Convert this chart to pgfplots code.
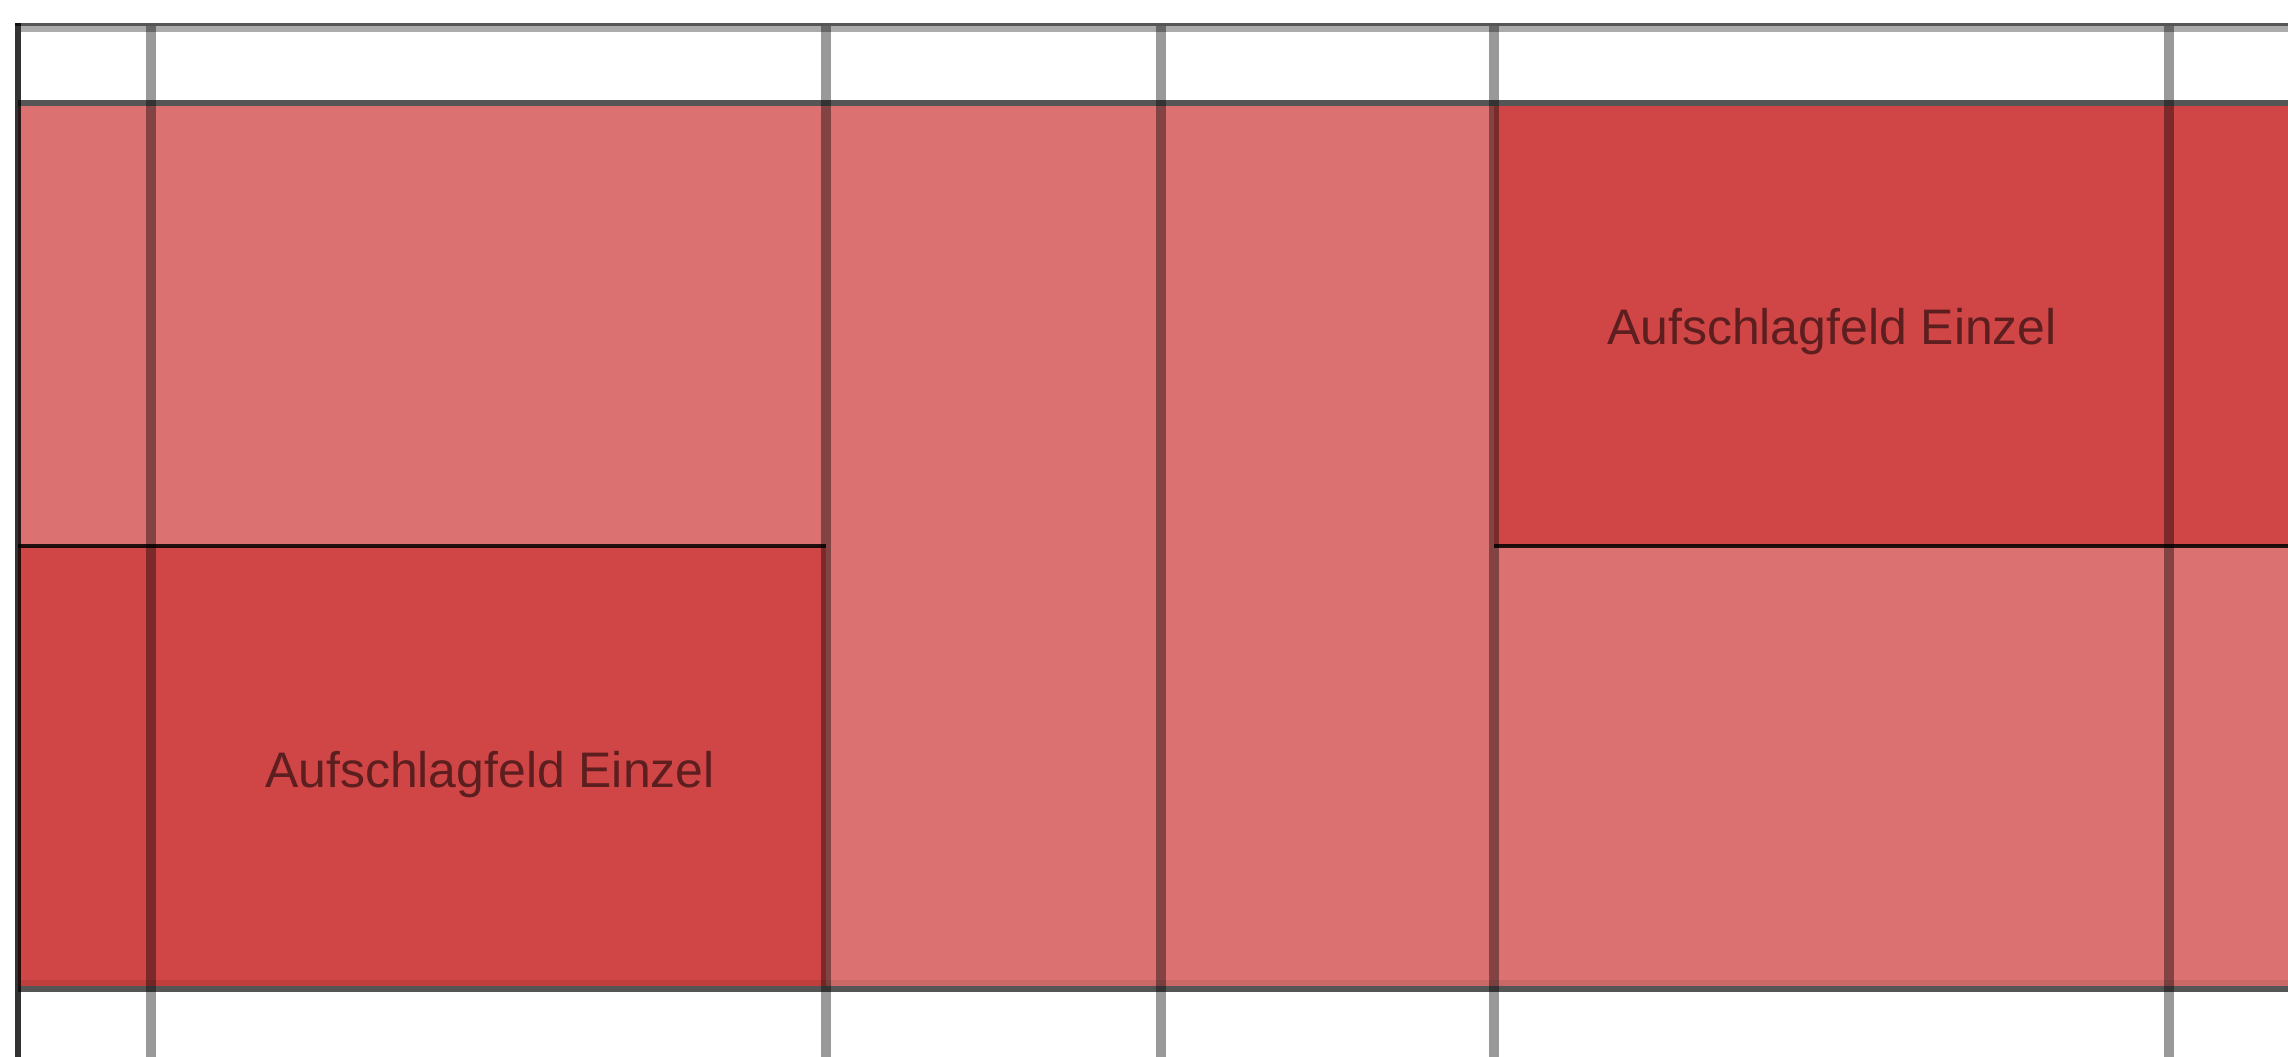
\documentclass[border=0pt]{standalone}
\usepackage{pgfplots}
\pgfplotsset{compat=1.18}
\usepackage{fontspec}
\setmainfont{Liberation Sans}

\definecolor{feldhell}{RGB}{220,113,113}
\definecolor{felddunkel}{RGB}{208,69,69}
\definecolor{linie}{RGB}{85,85,85}
\definecolor{schrift}{RGB}{92,30,30}

\begin{document}
\begin{tikzpicture}
 \begin{axis}[
     scale only axis,
     width=22.88cm, height=10.57cm,
     xmin=0, xmax=2288, ymin=0, ymax=1057,
     y dir=reverse,
     hide axis,
     clip=true,
 ]
 % Hintergrund
 \addplot[fill=white, draw=none] coordinates {(0,0) (2288,0) (2288,1057) (0,1057)} -- cycle;
 % Spielfeld
 \addplot[fill=feldhell, draw=none] coordinates {(18,103) (2288,103) (2288,989) (18,989)} -- cycle;
 % Aufschlagfelder
 \addplot[fill=felddunkel, draw=none] coordinates {(18,546) (826,546) (826,989) (18,989)} -- cycle;
 \addplot[fill=felddunkel, draw=none] coordinates {(1494,103) (2288,103) (2288,546) (1494,546)} -- cycle;
 % Grenzen der Aufschlagfelder
 \addplot[black, opacity=0.85, line width=1.14pt] coordinates {(18,546) (826,546)};
 \addplot[black, opacity=0.85, line width=1.14pt] coordinates {(1494,546) (2288,546)};
 % Baender
 \addplot[fill=black, fill opacity=0.33, draw=none] coordinates {(21,26) (2288,26) (2288,32) (21,32)} -- cycle;
 \addplot[fill=black, fill opacity=0.08, draw=none] coordinates {(21,980) (2288,980) (2288,986) (21,986)} -- cycle;
 % Waagerechte Linien
 \addplot[linie, line width=1.0pt] coordinates {(15,24.5) (2288,24.5)};
 \addplot[linie, line width=1.71pt] coordinates {(18,103) (2288,103)};
 \addplot[linie, line width=1.71pt] coordinates {(18,989) (2288,989)};
 % Senkrechte Linien
 \addplot[black, opacity=0.4, line width=3.1pt] coordinates {(151,26) (151,1057)};
 \addplot[black, opacity=0.4, line width=3.1pt] coordinates {(826,26) (826,1057)};
 \addplot[black, opacity=0.4, line width=3.1pt] coordinates {(1161,26) (1161,1057)};
 \addplot[black, opacity=0.4, line width=3.1pt] coordinates {(1494,26) (1494,1057)};
 \addplot[black, opacity=0.4, line width=3.1pt] coordinates {(2169,26) (2169,1057)};
 % Linke Kante
 \addplot[black, opacity=0.8, line width=1.71pt] coordinates {(18,23) (18,1057)};
 % Beschriftung
 \node[text=schrift, font=\fontsize{14.2}{17}\selectfont] at (axis cs:490,775) {Aufschlagfeld Einzel};
 \node[text=schrift, font=\fontsize{14.2}{17}\selectfont] at (axis cs:1832,332) {Aufschlagfeld Einzel};
 \end{axis}
\end{tikzpicture}
\end{document}
